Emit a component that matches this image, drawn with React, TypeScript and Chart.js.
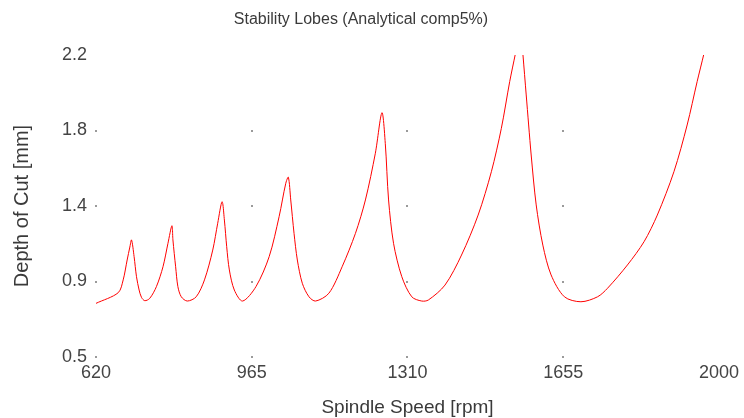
import React, { useEffect, useRef } from 'react';
import { Chart, registerables } from 'chart.js';

Chart.register(...registerables);

const chartTitle = 'Stability Lobes (Analytical comp5%)';
const xTitle = 'Spindle Speed [rpm]';
const yTitle = 'Depth of Cut [mm]';

const xTicks = [620, 965, 1310, 1655, 2000];
const xTickLabels = ['620', '965', '1310', '1655', '2000'];
const yTicks = [0.5, 0.925, 1.35, 1.775, 2.2];
const yTickLabels = ['0.5', '0.9', '1.4', '1.8', '2.2'];

const speedRpm = [
  620, 669.2, 680.2, 689.0, 695.0, 698.7, 704.4, 709.7, 715.5, 720.7,
  728.0, 739.0, 753.8, 768.4, 779.4, 788.2, 790.4, 796.4, 801.4, 808.9,
  822.2, 842.0, 860.3, 878.6, 889.6, 899.3, 904.4, 909.5, 915.4, 926.4,
  944.7, 974.3, 1003.6, 1025.6, 1040.4, 1046.1, 1051.4, 1058.7, 1066.0, 1077.0,
  1091.8, 1106.5, 1135.9, 1165.2, 1194.7, 1216.8, 1238.8, 1253.4, 1260.8, 1268.1,
  1279.1, 1297.4, 1319.5, 1341.5, 1356.3, 1393.1, 1429.7, 1466.5, 1495.8, 1517.9,
  1536.4, 1548.8, 1560.9, 1565.7, 1573.0, 1584.0, 1595.1, 1609.8, 1628.1, 1657.6,
  1694.2, 1731.1, 1753.1, 1797.2, 1834.0, 1863.4, 1900.2, 1929.5, 1951.6, 1966.4,
  1971.5,
];

const depthMm = [
  0.802, 0.862, 0.934, 1.046, 1.119, 1.159, 1.065, 0.952, 0.877, 0.836,
  0.817, 0.830, 0.896, 1.008, 1.140, 1.239, 1.159, 1.008, 0.896, 0.839,
  0.815, 0.839, 0.934, 1.102, 1.253, 1.374, 1.271, 1.121, 0.990, 0.877,
  0.815, 0.896, 1.065, 1.290, 1.478, 1.512, 1.384, 1.196, 1.046, 0.915,
  0.839, 0.815, 0.859, 1.008, 1.196, 1.384, 1.647, 1.875, 1.703, 1.384,
  1.140, 0.952, 0.839, 0.815, 0.821, 0.905, 1.074, 1.299, 1.543, 1.787,
  2.050, 2.204, 2.355, 2.204, 1.975, 1.637, 1.356, 1.130, 0.962, 0.839,
  0.811, 0.839, 0.887, 1.018, 1.149, 1.299, 1.543, 1.806, 2.050, 2.204,
  2.262,
];

const FONT = '"Liberation Sans", Arial, Helvetica, sans-serif';
const TEXT = '#3a3a3a';

const gridDots = {
  id: 'gridDots',
  beforeDatasetsDraw(chart: any) {
    const { ctx, scales } = chart;
    const xs = scales.x;
    const ys = scales.y;
    ctx.save();
    ctx.fillStyle = '#9a9a9a';
    for (const xv of xTicks.slice(0, -1)) {
      for (const yv of yTicks.slice(0, -1)) {
        const px = Math.round(xs.getPixelForValue(xv));
        const py = Math.round(ys.getPixelForValue(yv));
        ctx.fillRect(px - 1, py - 1, 2, 2);
      }
    }
    ctx.restore();
  },
};

export default function App() {
  const ref = useRef<HTMLCanvasElement | null>(null);

  useEffect(() => {
    if (!ref.current) return;
    const points = speedRpm.map((s, i) => ({ x: s, y: depthMm[i] }));
    const chart = new Chart(ref.current, {
      type: 'scatter',
      data: {
        datasets: [
          {
            data: points,
            showLine: true,
            borderColor: '#ff0000',
            borderWidth: 1,
            pointRadius: 0,
            tension: 0.3,
          },
        ],
      },
      plugins: [gridDots],
      options: {
        responsive: false,
        animation: false,
        devicePixelRatio: 1,
        layout: { padding: { left: 0, right: 22, top: 0, bottom: 0 } },
        plugins: {
          legend: { display: false },
          tooltip: { enabled: false },
          title: {
            display: true,
            text: chartTitle,
            color: TEXT,
            font: { family: FONT, size: 16, weight: 'normal', lineHeight: 1.2 },
            padding: { top: 10, bottom: 25.8 },
          },
        },
        scales: {
          x: {
            type: 'linear',
            min: 620,
            max: 2000,
            afterBuildTicks: (s: any) => {
              s.ticks = xTicks.map((v) => ({ value: v }));
            },
            afterFit: (s: any) => {
              s.height = 61;
            },
            grid: { display: false, drawTicks: false },
            border: { display: false },
            ticks: {
              autoSkip: false,
              maxRotation: 0,
              padding: 5,
              color: '#444',
              font: { family: FONT, size: 18 },
              callback: (v: any) => {
                const i = xTicks.indexOf(Number(v));
                return i >= 0 ? xTickLabels[i] : '';
              },
            },
            title: {
              display: true,
              text: xTitle,
              color: TEXT,
              font: { family: FONT, size: 19, lineHeight: '20px' },
              padding: { top: 0, bottom: 0 },
            },
          },
          y: {
            type: 'linear',
            min: 0.5,
            max: 2.2,
            afterBuildTicks: (s: any) => {
              s.ticks = yTicks.map((v) => ({ value: v }));
            },
            afterFit: (s: any) => {
              s.width = 96;
            },
            grid: { display: false, drawTicks: false },
            border: { display: false },
            ticks: {
              autoSkip: false,
              padding: 9,
              color: '#444',
              font: { family: FONT, size: 18 },
              callback: (v: any) => {
                const i = yTicks.indexOf(Number(v));
                return i >= 0 ? yTickLabels[i] : '';
              },
            },
            title: {
              display: true,
              text: yTitle,
              color: TEXT,
              font: { family: FONT, size: 20, lineHeight: '20px' },
              padding: { top: 12, bottom: 0 },
            },
          },
        },
      },
    } as any);
    return () => chart.destroy();
  }, []);

  return (
    <div style={{ position: 'fixed', left: 0, top: 0, width: 744, height: 418, background: '#fff' }}>
      <canvas ref={ref} width={744} height={418} style={{ display: 'block', width: 744, height: 418 }} />
    </div>
  );
}
